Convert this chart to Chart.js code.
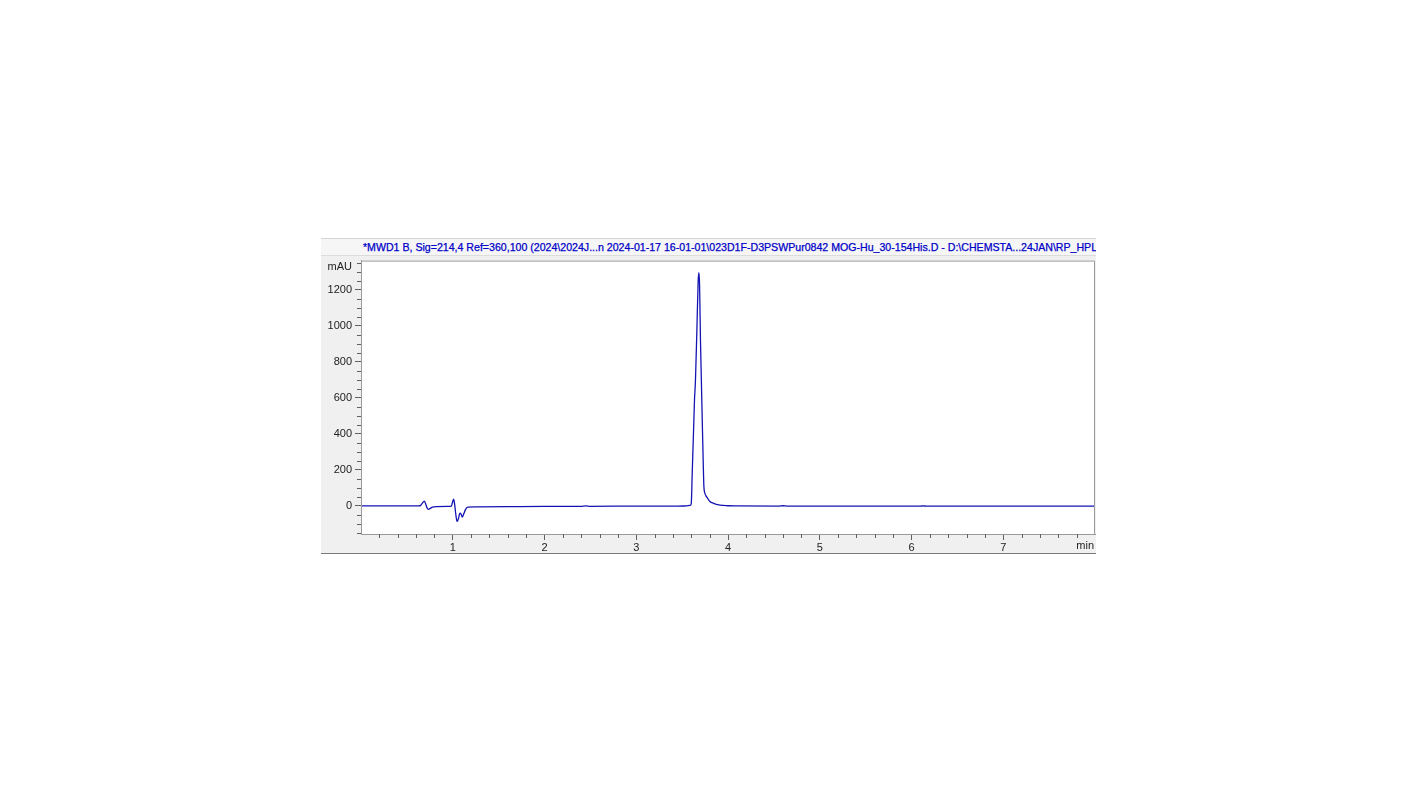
<!DOCTYPE html>
<html>
<head>
<meta charset="utf-8">
<script src="https://cdn.jsdelivr.net/npm/chart.js@4.4.1/dist/chart.umd.min.js"></script>
<style>
  body { margin: 0; background: #fff; }
  #panel {
    position: absolute; left: 321px; top: 238px; width: 775px; height: 314px;
    background: #f0f0f0; border-top: 1px solid #d4d4d4; border-bottom: 1px solid #7a7a7a;
  }
  #title {
    position: absolute; left: 0; top: 0; width: 775px; height: 17px;
    background: #f6f6f6; border-bottom: 1px solid #dcdcdc;
    font: 10.6px "Liberation Sans", Arial, sans-serif; color: #0000c8;
    -webkit-text-stroke: 0.25px #0000c8;
    line-height: 17px; padding-left: 42px; box-sizing: border-box;
    white-space: nowrap; overflow: hidden;
  }
  #wrap { position: absolute; left: 0; top: 12px; width: 775px; height: 302px; }
</style>
</head>
<body>
<div id="panel">
  <div id="title">*MWD1 B, Sig=214,4 Ref=360,100 (2024\2024J...n 2024-01-17 16-01-01\023D1F-D3PSWPur0842 MOG-Hu_30-154His.D - D:\CHEMSTA...24JAN\RP_HPLC_GRAD.M)</div>
  <div id="wrap"><canvas id="chrom"></canvas></div>
</div>
<script>
// retention time (min) and detector signal (mAU)
const times = [
  0.00, 0.60, 0.645, 0.665, 0.69, 0.705, 0.72, 0.735, 0.75, 0.78, 0.82, 0.95,
  0.985, 0.995, 1.01, 1.02, 1.035, 1.047, 1.06, 1.075, 1.083, 1.095, 1.105, 1.12,
  1.14, 1.163, 1.25, 1.60, 2.00, 2.40, 2.45, 2.50, 3.00, 3.45, 3.55, 3.59,
  3.60, 3.61, 3.625, 3.635, 3.645, 3.66, 3.675, 3.683, 3.69, 3.70, 3.71, 3.72,
  3.73, 3.737, 3.745, 3.76, 3.78, 3.80, 3.85, 3.90, 3.95, 4.00, 4.10, 4.55,
  4.60, 4.65, 6.10, 6.13, 6.16, 8.00
];
const mAU = [
  -1, -1, 0, 12, 26, 10, -12, -20, -16, -8, -5, -4,
  -2, 15, 37, 10, -55, -87, -75, -45, -41, -52, -63, -45,
  -20, -8, -6, -5, -4, -3, -1, -3, -2, -2, -1, 2,
  15, 180, 425, 590, 690, 960, 1250, 1295, 1230, 920, 690, 460,
  240, 110, 75, 55, 40, 25, 12, 5, 2, 0, -1, -2,
  0, -2, -2, -1, -2, -2
];
const yLabels = [0, 200, 400, 600, 800, 1000, 1200];
const xLabels = [1, 2, 3, 4, 5, 6, 7];

const FONT = { family: "'Liberation Sans', Arial, sans-serif", size: 11 };
const TICK_COLOR = "#606060";

const isOn = (v, list) => list.some(l => Math.abs(v - l) < 1e-6);

// white plot area, frame, minor ticks, axis unit labels
const framePlugin = {
  id: "frame",
  beforeDraw(chart) {
    const { ctx, chartArea: a } = chart;
    ctx.save();
    ctx.fillStyle = "#ffffff";
    ctx.fillRect(a.left, a.top, a.right - a.left, a.bottom - a.top);
    ctx.restore();
  },
  afterDraw(chart) {
    const { ctx, chartArea: a, scales } = chart;
    ctx.save();
    ctx.strokeStyle = "#9a9a9a";
    ctx.lineWidth = 1;
    ctx.strokeRect(a.left + 0.5, a.top + 0.5, a.right - a.left - 1, a.bottom - a.top);

    ctx.strokeStyle = TICK_COLOR;
    ctx.beginPath();
    scales.y.ticks.forEach(t => {
      if (isOn(t.value, yLabels)) return;
      const py = Math.round(scales.y.getPixelForValue(t.value)) + 0.5;
      ctx.moveTo(a.left - 4, py);
      ctx.lineTo(a.left, py);
    });
    scales.x.ticks.forEach(t => {
      if (isOn(t.value, xLabels) || t.value <= 0 || t.value >= 7.99) return;
      const px = Math.round(scales.x.getPixelForValue(t.value)) + 0.5;
      ctx.moveTo(px, a.bottom);
      ctx.lineTo(px, a.bottom + 4);
    });
    ctx.stroke();

    ctx.fillStyle = "#222";
    ctx.font = `${FONT.size}px ${FONT.family}`;
    ctx.textAlign = "right";
    ctx.textBaseline = "middle";
    ctx.fillText("min", a.right - 1, a.bottom + 12);
    ctx.fillText("mAU", a.left - 9, a.top + 6);
    ctx.restore();
  }
};

new Chart(document.getElementById("chrom"), {
  type: "scatter",
  data: {
    datasets: [{
      data: times.map((t, i) => ({ x: t, y: mAU[i] })),
      showLine: true,
      borderColor: "#1414b4",
      borderWidth: 1.3,
      pointRadius: 0,
      cubicInterpolationMode: "monotone",
    }],
  },
  options: {
    responsive: true,
    maintainAspectRatio: false,
    animation: false,
    layout: { padding: { top: 4, right: 1, left: 0, bottom: 0 } },
    scales: {
      x: {
        type: "linear",
        min: 0,
        max: 8,
        afterFit: s => { s.height = 19; },
        border: { display: true, color: "#9a9a9a" },
        grid: {
          drawOnChartArea: false,
          tickLength: 6,
          tickColor: c => isOn(c.tick.value, xLabels) ? TICK_COLOR : "rgba(0,0,0,0)",
        },
        ticks: {
          stepSize: 0.2,
          includeBounds: false,
          autoSkip: false,
          maxRotation: 0,
          padding: 1,
          color: "#222",
          font: FONT,
          callback: v => isOn(v, xLabels) ? String(Math.round(v)) : "",
        },
      },
      y: {
        min: -157,
        max: 1362,
        afterFit: s => { s.width = 40; },
        border: { display: true, color: "#9a9a9a" },
        grid: {
          drawOnChartArea: false,
          tickLength: 6,
          tickColor: c => isOn(c.tick.value, yLabels) ? TICK_COLOR : "rgba(0,0,0,0)",
        },
        ticks: {
          stepSize: 50,
          includeBounds: false,
          autoSkip: false,
          padding: 3,
          color: "#222",
          font: FONT,
          callback: v => isOn(v, yLabels) ? String(v) : (isOn(v, [1350]) ? " " : ""),
        },
      },
    },
    plugins: {
      legend: { display: false },
      tooltip: { enabled: false },
    },
  },
  plugins: [framePlugin],
});
</script>
</body>
</html>
